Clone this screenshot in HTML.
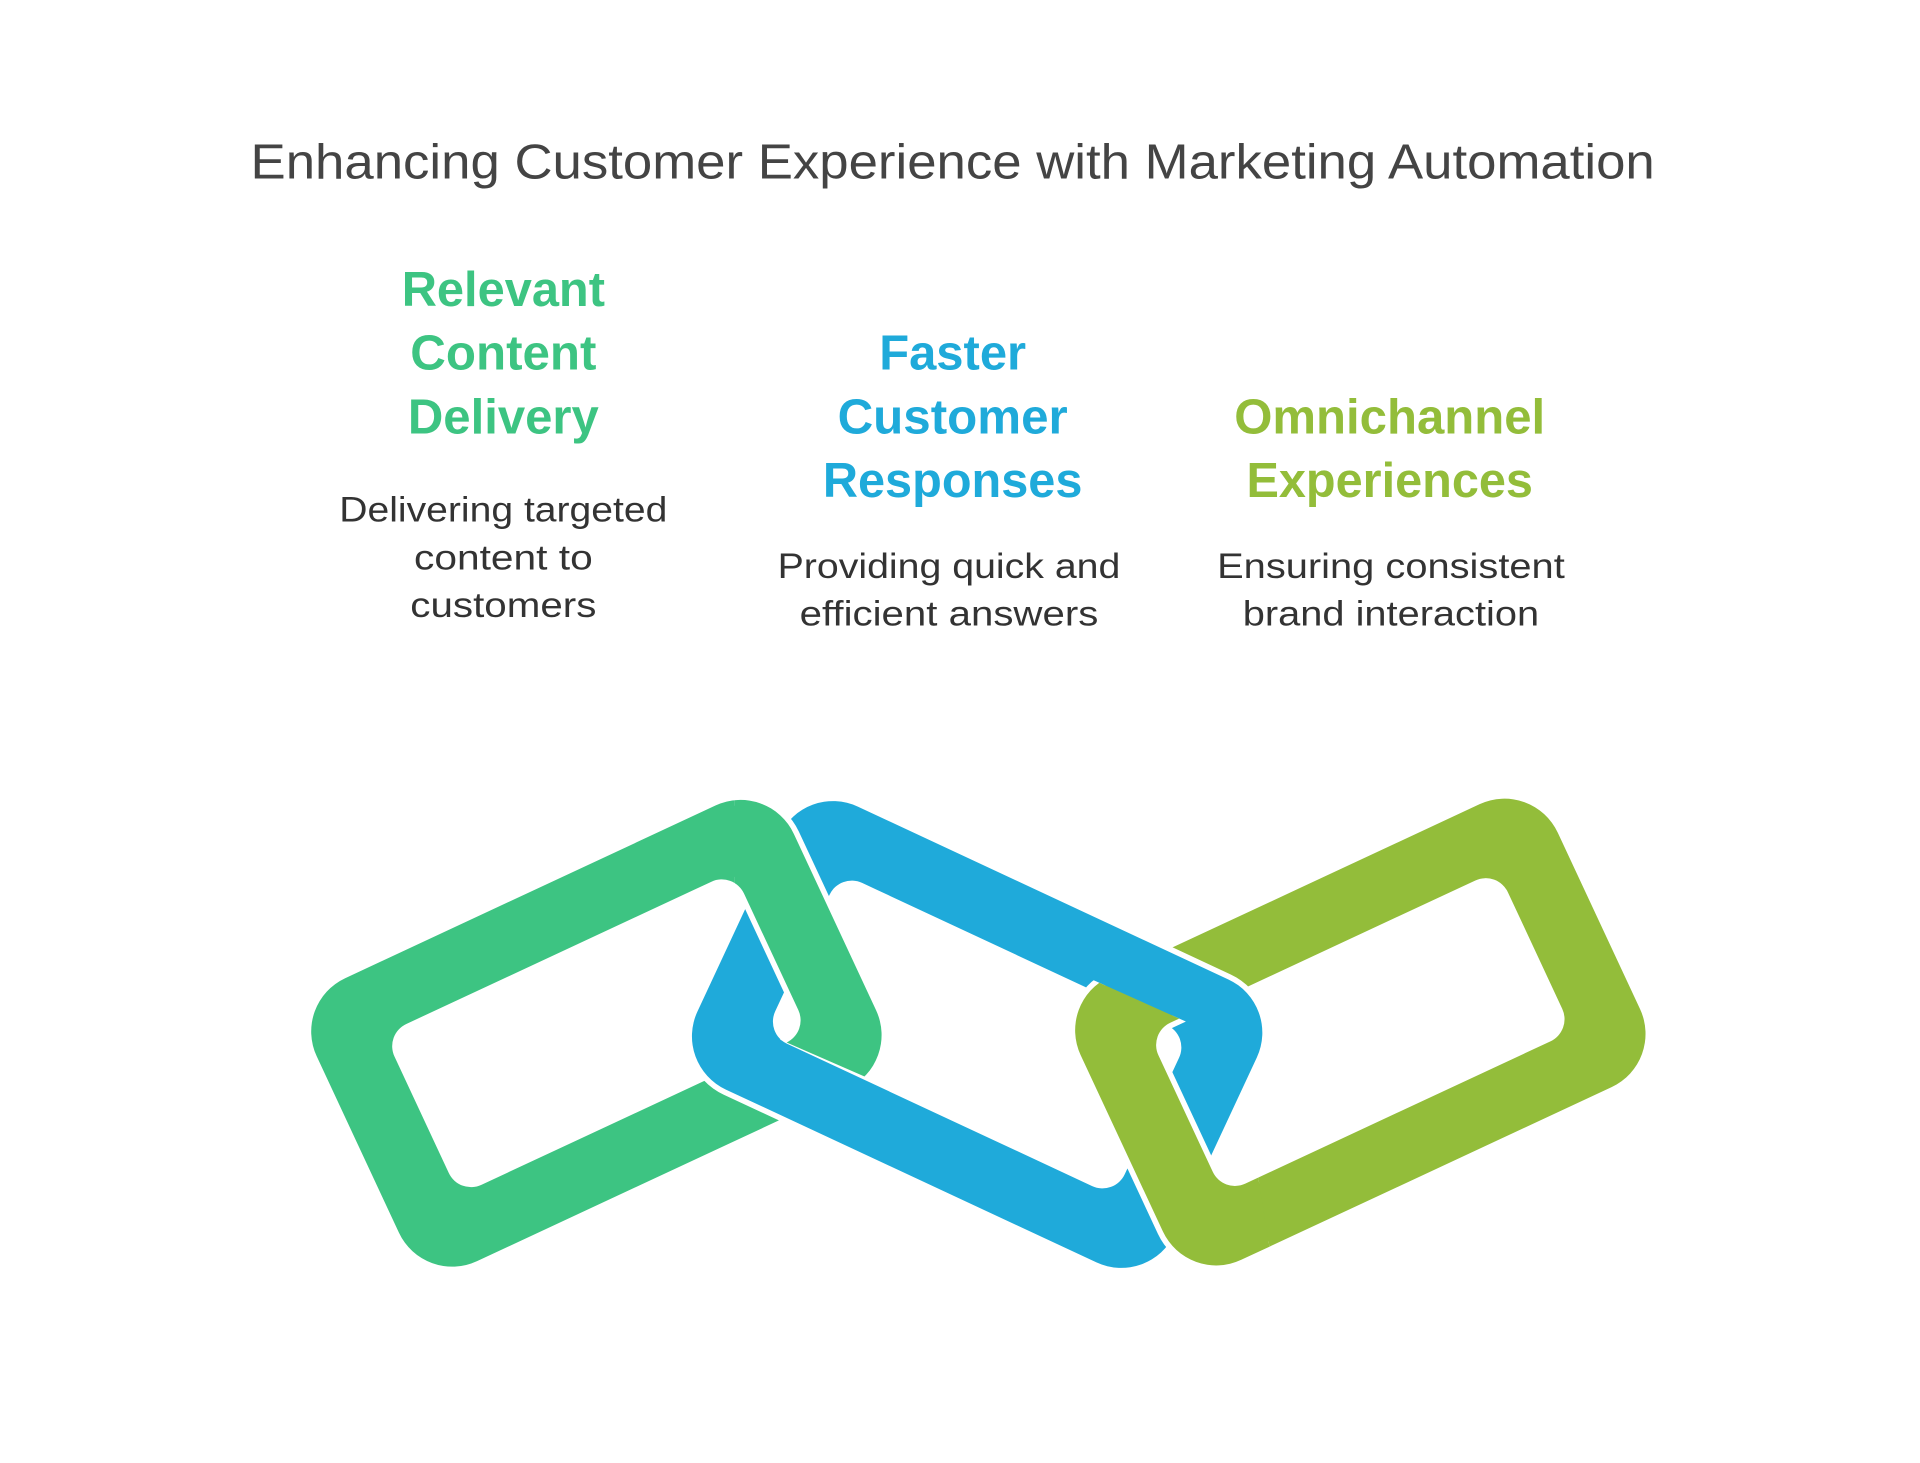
<!DOCTYPE html>
<html><head><meta charset="utf-8"><style>
html,body{margin:0;padding:0;background:#fff;}
svg{display:block;}
</style></head><body>
<svg width="1920" height="1463" viewBox="0 0 1568 1195" xmlns="http://www.w3.org/2000/svg">
<defs>
  <path id="ring" fill-rule="evenodd" stroke="#fff" stroke-width="9" paint-order="stroke" d="M -167,-127.5 H 167 A48 48 0 0 1 215,-79.5 V 79.5 A48 48 0 0 1 167,127.5 H -167 A48 48 0 0 1 -215,79.5 V -79.5 A48 48 0 0 1 -167,-127.5 Z M -137.5,-72.5 H 137.5 A20 20 0 0 1 157.5,-52.5 V 52.5 A20 20 0 0 1 137.5,72.5 H -137.5 A20 20 0 0 1 -157.5,52.5 V -52.5 A20 20 0 0 1 -137.5,-72.5 Z"/>
  <g id="green"><use href="#ring" fill="#3DC482" transform="translate(487,844) rotate(-25)"/></g>
  <g id="blue"><use href="#ring" fill="#1FAADA" transform="translate(798,845) rotate(25)"/></g>
  <g id="olive"><use href="#ring" fill="#93BD3A" transform="translate(1111,843) rotate(-25)"/></g>
  <clipPath id="cg"><polygon points="600,620 790,620 790,916 600,833"/></clipPath>
  <clipPath id="co"><polygon points="780,750 1010,853 1050,1100 780,1100"/></clipPath>
</defs>
<rect width="1568" height="1195" fill="#fff"/>
<use href="#green"/>
<use href="#olive"/>
<use href="#blue"/>
<g clip-path="url(#cg)"><use href="#green"/></g>
<g clip-path="url(#co)"><use href="#olive"/></g>

<g font-family="'Liberation Sans', Arial, sans-serif" text-anchor="middle">
  <text x="778" y="146" font-size="40" fill="#444" textLength="1147" lengthAdjust="spacingAndGlyphs">Enhancing Customer Experience with Marketing Automation</text>
  <g font-weight="bold" font-size="40" fill="#3DC482">
    <text x="411" y="250" textLength="166" lengthAdjust="spacingAndGlyphs">Relevant</text>
    <text x="411" y="302" textLength="152" lengthAdjust="spacingAndGlyphs">Content</text>
    <text x="411" y="354" textLength="156" lengthAdjust="spacingAndGlyphs">Delivery</text>
  </g>
  <g font-weight="bold" font-size="40" fill="#1FAADA">
    <text x="778" y="302" textLength="120" lengthAdjust="spacingAndGlyphs">Faster</text>
    <text x="778" y="354" textLength="188" lengthAdjust="spacingAndGlyphs">Customer</text>
    <text x="778" y="406" textLength="212" lengthAdjust="spacingAndGlyphs">Responses</text>
  </g>
  <g font-weight="bold" font-size="40" fill="#93BD3A">
    <text x="1135" y="354" textLength="254" lengthAdjust="spacingAndGlyphs">Omnichannel</text>
    <text x="1135" y="406" textLength="234" lengthAdjust="spacingAndGlyphs">Experiences</text>
  </g>
  <g font-size="29" fill="#333">
    <text x="411" y="426" textLength="268" lengthAdjust="spacingAndGlyphs">Delivering targeted</text>
    <text x="411" y="465" textLength="146" lengthAdjust="spacingAndGlyphs">content to</text>
    <text x="411" y="504" textLength="152" lengthAdjust="spacingAndGlyphs">customers</text>
    <text x="775" y="472" textLength="280" lengthAdjust="spacingAndGlyphs">Providing quick and</text>
    <text x="775" y="511" textLength="244" lengthAdjust="spacingAndGlyphs">efficient answers</text>
    <text x="1136" y="472" textLength="284" lengthAdjust="spacingAndGlyphs">Ensuring consistent</text>
    <text x="1136" y="511" textLength="242" lengthAdjust="spacingAndGlyphs">brand interaction</text>
  </g>
</g>
</svg>
</body></html>
